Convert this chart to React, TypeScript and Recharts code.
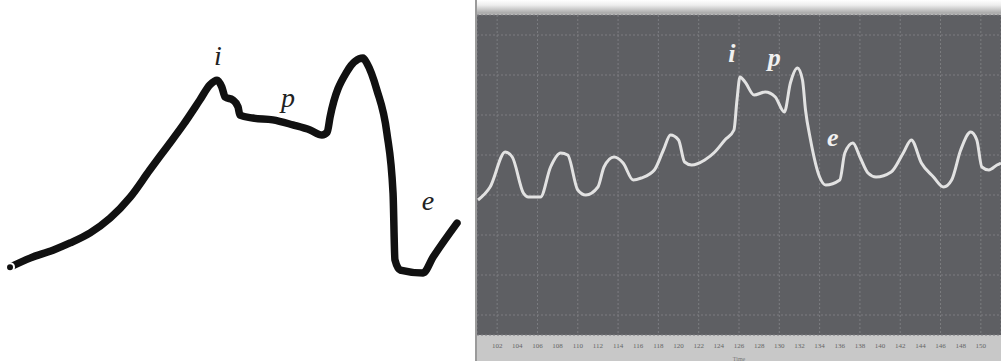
import { LineChart, Line, XAxis, YAxis, CartesianGrid, ReferenceDot } from 'recharts';

// hand-drawn sketch (left panel)
const sketchT = [2.1, 6.3, 11.1, 14.7, 18.9, 23.1, 27.3, 31.4, 35.0, 38.4, 41.9, 44.0, 45.5, 46.5, 47.2, 48.8, 49.9, 50.3, 53.0, 57.2, 61.4, 65.0, 67.5, 68.6, 69.2, 72.7, 76.1, 76.9, 79.0, 81.1, 82.4, 82.8, 83.9, 88.7, 90.8, 95.8];
const sketchV = [2.6, 2.85, 3.07, 3.27, 3.55, 3.96, 4.54, 5.29, 5.93, 6.54, 7.23, 7.65, 7.78, 7.59, 7.31, 7.23, 7.04, 6.81, 6.73, 6.68, 6.54, 6.4, 6.26, 6.34, 6.76, 8.01, 8.39, 8.25, 7.51, 6.32, 4.65, 2.8, 2.52, 2.44, 2.88, 3.82];

// recorded trace (right panel)
const traceT = [100.1, 101.3, 102.8, 103.5, 104.6, 105.1, 106.3, 107.3, 108.3, 109.0, 110.0, 110.8, 112.0, 112.6, 113.6, 114.5, 115.5, 116.3, 117.6, 118.5, 119.2, 120.0, 120.6, 121.3, 122.6, 123.6, 124.6, 125.5, 125.8, 126.1, 126.6, 127.5, 128.6, 129.6, 130.5, 131.1, 131.8, 132.3, 132.6, 133.1, 134.0, 134.6, 136.0, 136.5, 137.3, 138.0, 138.8, 139.6, 141.1, 142.3, 143.1, 144.1, 145.3, 146.3, 147.1, 148.0, 149.0, 149.6, 150.1, 150.8, 151.6, 152.0];
const traceV = [6.75, 7.4, 9.15, 8.9, 7.1, 6.9, 6.9, 8.4, 9.1, 9.0, 7.25, 7.0, 7.4, 8.4, 8.9, 8.6, 7.75, 7.85, 8.25, 9.25, 10.0, 9.75, 8.65, 8.5, 8.75, 9.15, 9.75, 10.25, 11.75, 12.9, 12.65, 12.0, 12.15, 11.9, 11.15, 12.6, 13.35, 12.75, 11.25, 9.75, 7.9, 7.5, 7.75, 9.1, 9.6, 8.9, 8.1, 7.9, 8.15, 9.1, 9.75, 8.6, 7.9, 7.4, 7.75, 9.25, 10.15, 9.75, 8.4, 8.25, 8.5, 8.6];

const timeTicks = [100, 102, 104, 106, 108, 110, 112, 114, 116, 118, 120, 122, 124, 126, 128, 130, 132, 134, 136, 138, 140, 142, 144, 146, 148, 150];
const levelTicks = [1, 2, 3, 4, 5, 6, 7, 8, 9, 10, 11, 12, 13, 14, 15];

const sketchLabels = [
  { t: 45.7, v: 8.48, text: 'i' },
  { t: 60.4, v: 7.31, text: 'p' },
  { t: 89.7, v: 4.46, text: 'e' },
];
const traceLabels = [
  { t: 125.3, v: 14.1, text: 'i' },
  { t: 129.5, v: 13.9, text: 'p' },
  { t: 135.3, v: 9.9, text: 'e' },
];

const sketchData = sketchT.map((t, i) => ({ t, v: sketchV[i] }));
const traceData = traceT.map((t, i) => ({ t, v: traceV[i] }));

const serif = '"Liberation Serif", "DejaVu Serif", serif';

export default function App() {
  return (
    <div style={{ position: 'absolute', left: 0, top: 0, width: 1001, height: 361, background: '#fff', overflow: 'hidden' }}>
      <div style={{ position: 'absolute', left: 0, top: 0 }}>
        <LineChart width={477} height={361} data={sketchData} margin={{ top: 0, right: 0, bottom: 0, left: 0 }}>
          <XAxis dataKey="t" type="number" domain={[0, 100]} hide />
          <YAxis type="number" domain={[0, 10]} hide width={0} />
          <Line
            dataKey="v"
            type="monotone"
            stroke="#111"
            strokeWidth={7.5}
            strokeLinejoin="round"
            strokeLinecap="round"
            dot={false}
            isAnimationActive={false}
          />
          {sketchLabels.map((l) => (
            <ReferenceDot
              key={l.text}
              x={l.t}
              y={l.v}
              r={0}
              stroke="none"
              label={{ value: l.text, position: 'center', fill: '#222', fontSize: 28, fontStyle: 'italic', fontFamily: serif }}
            />
          ))}
        </LineChart>
      </div>
      <div
        style={{
          position: 'absolute',
          left: 475,
          top: 0,
          width: 526,
          height: 361,
          borderLeft: '2px solid #9a9a9a',
          background: 'linear-gradient(to bottom, #ffffff 0px, #eeeeee 5px, #aaaaaa 13px, #c8c8c8 16px, #c8c8c8 100%)',
        }}
      >
        <LineChart width={524} height={361} data={traceData} margin={{ top: 15, right: 0, bottom: 0, left: 0 }}>
          <CartesianGrid fill="#5e5f63" stroke="#7c7d81" strokeDasharray="2 2" />
          <XAxis
            dataKey="t"
            type="number"
            domain={[100, 152]}
            ticks={timeTicks}
            tickFormatter={(v) => String(v)}
            axisLine={false}
            tickLine={false}
            height={26}
            tick={{ fontSize: 7, fill: '#666', fontFamily: serif }}
            label={{ value: 'Time', position: 'insideBottom', offset: 0, fontSize: 6, fill: '#777' }}
          />
          <YAxis type="number" domain={[0, 16]} ticks={levelTicks} hide width={0} />
          <Line
            dataKey="v"
            type="monotone"
            stroke="#e2e2e2"
            strokeWidth={3}
            dot={false}
            isAnimationActive={false}
          />
          {traceLabels.map((l) => (
            <ReferenceDot
              key={l.text}
              x={l.t}
              y={l.v}
              r={0}
              stroke="none"
              label={{ value: l.text, position: 'center', fill: '#f0f0f0', fontSize: 26, fontStyle: 'italic', fontWeight: 'bold', fontFamily: serif }}
            />
          ))}
        </LineChart>
      </div>
    </div>
  );
}
